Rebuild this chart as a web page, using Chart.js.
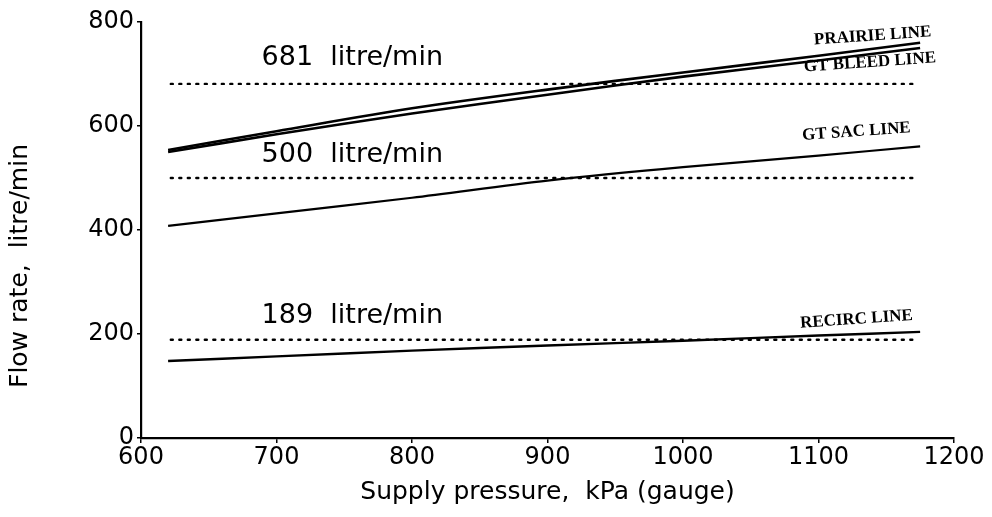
<!DOCTYPE html>
<html>
<head>
<meta charset="utf-8">
<script src="https://cdn.jsdelivr.net/npm/chart.js@4.4.0/dist/chart.umd.min.js"></script>
<style>
html,body{margin:0;padding:0;background:#fff;}
#wrap{width:992px;height:517px;}
</style>
</head>
<body>
<div id="wrap"><canvas id="c"></canvas></div>
<script>
// Data (kPa gauge vs litre/min)
const pressures = [620, 700, 800, 900, 1000, 1100, 1175];
const prairieLine = [554, 590, 634, 670, 703, 735, 760];
const gtBleedLine = [550, 584, 624, 660, 695, 726, 750];
const gtSacLine   = [408, 432, 462, 495, 521, 543, 561];
const recircLine  = [148, 157, 168, 178, 187, 197, 204];
const refRange = [622, 1173];
const refFlows = [681, 500, 189];
const xTicks = [600, 700, 800, 900, 1000, 1100, 1200];
const yTicks = [0, 200, 400, 600, 800];

const lineNames = ['PRAIRIE LINE', 'GT BLEED LINE', 'GT SAC LINE', 'RECIRC LINE'];
const lineLabelAt = [[1140, 773], [1138, 722], [1128, 589], [1128, 228]];
const refLabelAt = [[689, 731], [689, 544], [689, 235]];

const pts = arr => pressures.map((p, i) => ({x: p, y: arr[i]}));
const solid = (label, arr, w) => ({
  label, data: pts(arr), borderColor: '#000', borderWidth: w,
  pointRadius: 0, tension: 0.3, fill: false
});
const datasets = [
  solid(lineNames[0], prairieLine, 2.6),
  solid(lineNames[1], gtBleedLine, 2.6),
  solid(lineNames[2], gtSacLine, 2.2),
  solid(lineNames[3], recircLine, 2.4)
];
refFlows.forEach(v => datasets.push({
  label: v + ' litre/min',
  data: refRange.map(x => ({x, y: v})),
  borderColor: '#000', borderWidth: 2.4, borderDash: [2, 6.5],
  borderCapStyle: 'round', pointRadius: 0, fill: false
}));

const textPlugin = {
  id: 'texts',
  afterDatasetsDraw(chart) {
    const {ctx, scales: {x, y}} = chart;
    ctx.save();
    ctx.fillStyle = '#000';
    ctx.font = '27px "DejaVu Sans"';
    ctx.textAlign = 'left';
    ctx.textBaseline = 'middle';
    refFlows.forEach((v, i) => {
      ctx.fillText(v + '  litre/min', x.getPixelForValue(refLabelAt[i][0]), y.getPixelForValue(refLabelAt[i][1]));
    });
    ctx.font = 'bold 17px "Liberation Serif"';
    ctx.textAlign = 'center';
    lineNames.forEach((n, i) => {
      ctx.save();
      ctx.translate(x.getPixelForValue(lineLabelAt[i][0]), y.getPixelForValue(lineLabelAt[i][1]));
      ctx.rotate(-0.07);
      ctx.fillText(n, 0, 0);
      ctx.restore();
    });
    // y axis title
    ctx.save();
    ctx.font = '25px "DejaVu Sans"';
    ctx.translate(20, 266);
    ctx.rotate(-Math.PI / 2);
    ctx.textAlign = 'center';
    ctx.fillText('Flow rate,  litre/min', 0, 0);
    ctx.restore();
    ctx.restore();
  }
};

new Chart(document.getElementById('c'), {
  type: 'line',
  data: {datasets},
  options: {
    responsive: true, maintainAspectRatio: false, animation: false,
    layout: {padding: {top: 22, right: 38, left: 0, bottom: 0}},
    plugins: {legend: {display: false}, tooltip: {enabled: false}},
    scales: {
      x: {
        type: 'linear', min: 600, max: 1200,
        afterBuildTicks: s => { s.ticks = xTicks.map(v => ({value: v})); },
        afterFit: s => { s.height = 79; },
        grid: {drawOnChartArea: false, drawTicks: true, tickLength: 5, color: '#000', lineWidth: 1.5},
        border: {color: '#000', width: 2.2},
        ticks: {color: '#000', font: {family: 'DejaVu Sans', size: 24}, padding: 0, maxRotation: 0,
                callback: v => String(v)},
        title: {display: true, text: 'Supply pressure,  kPa (gauge)', color: '#000',
                font: {family: 'DejaVu Sans', size: 25}, padding: {top: 2, bottom: 10}}
      },
      y: {
        min: 0, max: 800,
        afterBuildTicks: s => { s.ticks = yTicks.map(v => ({value: v})); },
        afterFit: s => { s.width = 141; },
        grid: {drawOnChartArea: false, drawTicks: true, tickLength: 4, color: '#000', lineWidth: 1.5},
        border: {color: '#000', width: 2.2},
        ticks: {color: '#000', font: {family: 'DejaVu Sans', size: 24}, padding: 3,
                callback: v => String(v)}
      }
    }
  },
  plugins: [textPlugin]
});
</script>
</body>
</html>
